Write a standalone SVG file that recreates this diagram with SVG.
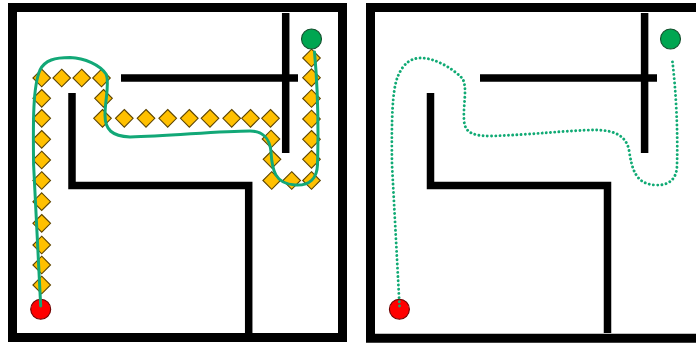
<svg xmlns="http://www.w3.org/2000/svg" xmlns:xlink="http://www.w3.org/1999/xlink" width="696" height="345" viewBox="0 0 696 345">
<style>
.wall{fill:none;stroke:#000;stroke-width:7.5;stroke-linecap:butt;stroke-linejoin:miter}
.border{fill:none;stroke:#000;stroke-width:9}
.wp{fill:#FFC000;stroke:#5E4500;stroke-width:1.1}
.start{fill:#FF0000;stroke:#6E0000;stroke-width:1.1}
.goal{fill:#00A651;stroke:#124F2C;stroke-width:1.1}
.path{fill:none;stroke:#12A877;stroke-width:3;stroke-linecap:round;stroke-linejoin:round}
.dots{fill:none;stroke:#10AA74;stroke-width:2.9;stroke-linecap:round;stroke-dasharray:0.01 4.2}
</style>
<defs>
<path id="d" class="wp" d="M0 -8.8 L8.8 0 L0 8.8 L-8.8 0 Z"/>
</defs>
<rect width="696" height="345" fill="#fff"/>
<g id="panel-left">
<g id="walls-left">
<rect class="border" x="12.5" y="7.5" width="330" height="330"/>
<line class="wall" x1="285.7" y1="13" x2="285.7" y2="153"/>
<line class="wall" x1="121" y1="78" x2="298" y2="78"/>
<polyline class="wall" points="72,93 72,185.5 248.7,185.5 248.7,333"/>
</g>
<g id="waypoints">
<use href="#d" x="41.7" y="78"/><use href="#d" x="61.7" y="78"/><use href="#d" x="81.7" y="78"/><use href="#d" x="101.5" y="78"/>
<use href="#d" x="41.7" y="98.3"/><use href="#d" x="41.7" y="118.3"/><use href="#d" x="41.7" y="139.3"/><use href="#d" x="41.7" y="160"/><use href="#d" x="41.7" y="180.5"/><use href="#d" x="41.7" y="201.7"/><use href="#d" x="41.7" y="223.3"/><use href="#d" x="41.7" y="245"/><use href="#d" x="41.7" y="265"/><use href="#d" x="41.7" y="285"/>
<use href="#d" x="103.5" y="98.3"/>
<use href="#d" x="102.5" y="118.3"/><use href="#d" x="124.3" y="118.3"/><use href="#d" x="146" y="118.3"/><use href="#d" x="167.7" y="118.3"/><use href="#d" x="189.3" y="118.3"/><use href="#d" x="210" y="118.3"/><use href="#d" x="231.7" y="118.3"/><use href="#d" x="250.5" y="118.3"/><use href="#d" x="270.5" y="118.3"/>
<use href="#d" x="271" y="139"/><use href="#d" x="272" y="159.3"/>
<use href="#d" x="271.7" y="180.5"/><use href="#d" x="291.7" y="180.5"/><use href="#d" x="311.5" y="180.5"/>
<use href="#d" x="311.5" y="159.3"/><use href="#d" x="311.5" y="139.3"/><use href="#d" x="311.5" y="119"/><use href="#d" x="311.5" y="98.5"/><use href="#d" x="311.5" y="77.7"/><use href="#d" x="311.5" y="58"/>
</g>
<g id="start-left"><circle class="start" cx="40.7" cy="309.3" r="10"/></g>
<g id="goal-left"><circle class="goal" cx="311.5" cy="39" r="10"/></g>
</g>
<g id="panel-right">
<g id="walls-right">
<path class="border" d="M700 7.5 H370.5 V338.3 H700"/>
<line class="wall" x1="644.6" y1="13" x2="644.6" y2="153"/>
<line class="wall" x1="480" y1="78" x2="657" y2="78"/>
<polyline class="wall" points="430.5,93 430.5,185.5 607.5,185.5 607.5,333"/>
</g>
<g id="start-right"><circle class="start" cx="399.4" cy="309.3" r="10"/></g>
<g id="goal-right"><circle class="goal" cx="670.5" cy="39" r="10"/></g>
</g>
<g id="connectors">
<path class="path" d="M40.7 306 L33.6 165 C33 120 33 86 40 70 C45 60 55 57.5 70 57.5 C85 58 100 65 106 74 C110 82 105 100 105 115 C105 130 112 136 130 137 C170 136 220 131 250 131 C262 131 270 138 271 152 C272 170 275 184 295 185 C310 186 317 178 317.5 165 C318.5 130 318 90 314.5 52"/>
<path class="dots" d="M399.5 306 L392 165 C391.5 120 392 90 398 76 C404 62 412 58 421 58 C435 58 452 68 462 78 C468 86 463 105 464 120 C464.5 132 472 136 490 136 C530 135 570 130 595 130 C615 130 626 136 629 150 C632 170 636 184 655 185 C670 186 677 178 677 165 C678 130 676 90 672 58"/>
</g>
</svg>
